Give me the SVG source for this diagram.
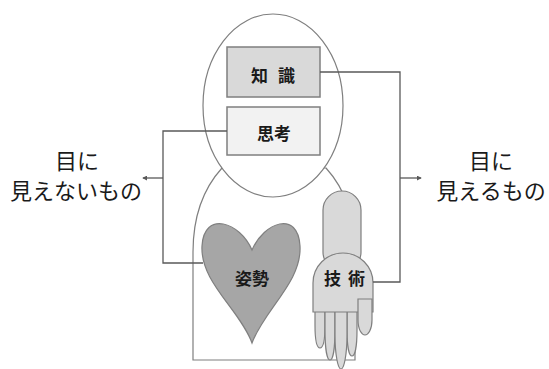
<svg xmlns="http://www.w3.org/2000/svg" width="549" height="369" viewBox="0 0 549 369">
  <defs>
    <style>
      .outline { fill: #ffffff; stroke: #7f7f7f; stroke-width: 1.2; }
      .box-dark { fill: #d9d9d9; stroke: #7f7f7f; stroke-width: 1.5; }
      .box-light { fill: #f2f2f2; stroke: #7f7f7f; stroke-width: 1.5; }
      .heart { fill: #a6a6a6; stroke: #7f7f7f; stroke-width: 1.2; }
      .hand { fill: #d9d9d9; stroke: #7f7f7f; stroke-width: 1.2; }
      .conn { fill: none; stroke: #595959; stroke-width: 1.3; }
      .label { font-family: "Noto Sans CJK JP", "Noto Sans", sans-serif; font-weight: bold; font-size: 17px; fill: #1a1a1a; text-anchor: middle; }
      .side { font-family: "Noto Sans CJK JP", "Noto Sans", sans-serif; font-size: 22px; fill: #1a1a1a; text-anchor: middle; }
    </style>
    <marker id="arrow" viewBox="0 0 6 6" refX="5" refY="3" markerWidth="5" markerHeight="5" orient="auto" markerUnits="userSpaceOnUse">
      <path d="M0,0 L6,3 L0,6 Z" fill="#595959"/>
    </marker>
  </defs>

  <!-- body -->
  <g id="body">
    <path class="outline" d="M222 168 Q193 200 193 252 L193 360 L355 360 L355 252 Q355 200 326 168 Z"/>
  </g>

  <!-- head -->
  <g id="head">
    <ellipse class="outline" cx="273" cy="105.5" rx="70" ry="91.5"/>
  </g>

  <g id="knowledge">
    <rect class="box-dark" x="227" y="47" width="93" height="50"/>
    <text class="label" x="278" y="82" letter-spacing="10">知識</text>
  </g>

  <g id="thinking">
    <rect class="box-light" x="227" y="107" width="93" height="48"/>
    <text class="label" x="274" y="140" font-size="18">思考</text>
  </g>

  <g id="attitude">
    <path class="heart" d="M252 250 C240 222 204 210 202 246 C200 282 240 310 252 343 C264 310 302 282 300 246 C298 210 264 222 252 250 Z"/>
    <text class="label" x="252" y="285" font-size="18">姿勢</text>
  </g>

  <g id="skill">
    <!-- forearm -->
    <rect class="hand" x="323" y="191" width="38" height="80" rx="19"/>
    <!-- fingers -->
    <path class="hand" d="M315 305 V325 C315 340 317 348 320 348 C323 348 325 340 325 325 V305 Z"/>
    <path class="hand" d="M347 305 V330 C347 346 349 356 352 356 C355 356 357 346 357 330 V305 Z"/>
    <path class="hand" d="M325 305 V330 C325 348 327 360 330 360 C333 360 335 348 335 330 V305 Z"/>
    <path class="hand" d="M335 305 V335 C335 355 338 369 341 369 C344 369 347 355 347 335 V305 Z"/>
    <!-- palm -->
    <path class="hand" d="M313 312 L313 283 A30 30 0 0 1 373 283 L373 312 Z"/>
    <!-- thumb -->
    <path class="hand" d="M358 299 H372 V320 C372 330 368 335 365 335 C362 335 358 330 358 320 Z"/>
    <text class="label" x="348" y="285" font-size="18" letter-spacing="7">技術</text>
  </g>

  <g id="connectors">
    <path class="conn" d="M320 72 H400 V282 H373"/>
    <path class="conn" d="M400 178 H421" marker-end="url(#arrow)"/>
    <path class="conn" d="M227 131 H163 V263 H203"/>
    <path class="conn" d="M163 178 H143" marker-end="url(#arrow)"/>
  </g>

  <g id="invisible">
    <text class="side" x="77" y="169">目に</text>
    <text class="side" x="76" y="199">見えないもの</text>
  </g>

  <g id="visible">
    <text class="side" x="491" y="169">目に</text>
    <text class="side" x="491" y="199">見えるもの</text>
  </g>
</svg>
